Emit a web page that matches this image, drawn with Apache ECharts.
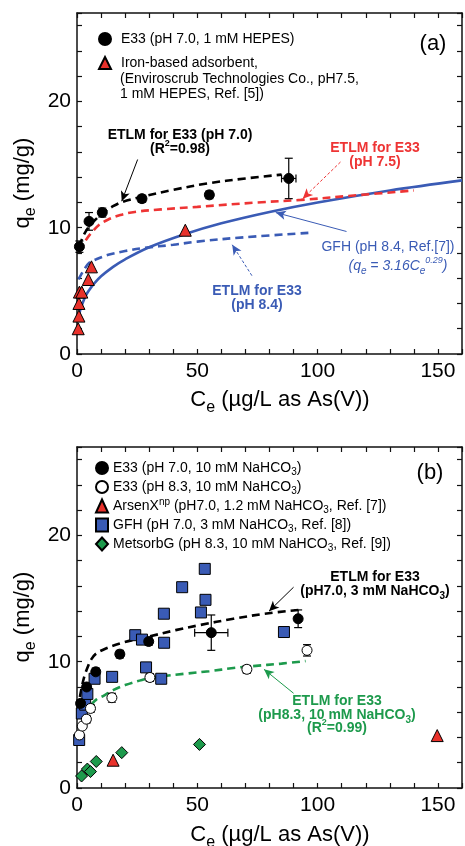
<!DOCTYPE html>
<html>
<head>
<meta charset="utf-8">
<script src="https://cdn.jsdelivr.net/npm/echarts@6/dist/echarts.min.js"></script>
<style>
  html, body { margin: 0; padding: 0; background: #fff; }
  #chart { width: 465px; height: 846px; }
</style>
</head>
<body>
<div id="chart"></div>
<script>
// tick labels
const xLabels = [0, 50, 100, 150]
const yLabels = [0, 10, 20]

// panel (a): [Ce, qe]
const aE33 = [[1, 8.5], [5, 10.5], [10.5, 11.2], [27, 12.3], [55, 12.6], [88, 13.9]]
const aE33Err = [[0, 0.45], [0, 0.7], [0, 0.35], [1.5, 0.25], [0, 0.3], [3, 1.6]]
const aIron = [[0.5, 2.0], [0.8, 3.0], [0.8, 4.0], [1, 4.9], [2, 4.9], [4.7, 5.9], [6, 6.9], [45, 9.8]]
const aFit70 = [[1, 8.5], [2.5, 9.3], [5, 10.1], [8, 10.7], [11, 11.2], [15, 11.7], [19, 12.05], [27, 12.45], [40, 13.0], [54, 13.5], [70, 13.9], [85, 14.2]]
const aFit75 = [[1, 8.1], [2.5, 8.6], [4, 9.1], [6, 9.6], [9, 10.2], [13, 10.65], [18, 11.0], [24, 11.25], [35, 11.45], [50, 11.65], [75, 12.0], [93, 12.2], [115, 12.55], [140, 12.95]]
const aFit84 = [[0.6, 5.9], [3, 6.7], [5, 7.2], [8, 7.5], [13, 7.85], [20, 8.15], [28, 8.4], [40, 8.65], [50, 8.9], [70, 9.25], [97, 9.6]]
const aGFH = [[1, 3.16], [1.5, 3.6], [2, 3.86], [3, 4.35], [4, 4.75], [5, 5.05], [7, 5.55], [10, 6.15], [15, 6.9], [20, 7.5], [30, 8.45], [45, 9.5], [60, 10.35], [80, 11.25], [100, 12.0], [130, 12.95], [160, 13.75]]

// panel (b)
const bE33 = [[1.5, 6.7], [4, 8.0], [7.8, 9.2], [17.8, 10.6], [29.8, 11.6], [55.8, 12.3], [91.9, 13.4]]
const bE33Err = [[0, 0.3], [0, 0.3], [0, 0.3], [1.2, 0.3], [1.2, 0.3], [6.9, 1.4], [0, 0.7]]
const bE33h = [[1.0, 4.2], [2.2, 4.9], [3.9, 5.45], [5.6, 6.3], [14.5, 7.15], [30.3, 8.75], [70.6, 9.4], [95.6, 10.9]]
const bE33hErr = [[0, 0], [0, 0], [1.5, 0.3], [1.5, 0.3], [0, 0.35], [1.5, 0.3], [1.5, 0.3], [0, 0.45]]
const bArsenX = [[15, 2.2], [149.7, 4.15]]
const bGFH = [[0.9, 3.8], [2.0, 5.9], [3.4, 6.6], [4.3, 7.45], [7.3, 8.65], [14.6, 8.8], [24.2, 12.1], [27, 11.75], [28.7, 9.55], [35, 8.65], [36.2, 11.5], [36.1, 13.8], [43.7, 15.9], [51.5, 13.9], [53.1, 17.35], [53.4, 14.9], [86, 12.35]]
const bMetsorb = [[1.9, 0.95], [4.3, 1.5], [5.6, 1.3], [8, 2.1], [18.6, 2.8], [50.9, 3.45]]
const bFit70 = [[1.2, 7.2], [2, 8.0], [3, 8.8], [4.5, 9.6], [6, 10.2], [8, 10.65], [12, 11.05], [18, 11.45], [25, 11.8], [30, 12.0], [41, 12.5], [51, 12.9], [65, 13.4], [78, 13.8], [92, 14.1]]
const bFit83 = [[6, 6.6], [8, 7.0], [11, 7.3], [15, 7.75], [20, 8.15], [27, 8.55], [34, 8.8], [45, 9.05], [55, 9.25], [65, 9.5], [73, 9.65], [85, 9.85], [95, 10.05]]

const FONT = 'Liberation Sans, Arial, Helvetica, sans-serif'
const RED = '#e8312b'
const BLUE = '#3a5bb5'
const GREEN = '#1d9a4c'

const chart = echarts.init(document.getElementById('chart'))

function xAx(gi, pos, labels) {
  return {
    type: 'value', gridIndex: gi, position: pos, min: 0, max: 160, interval: 10,
    axisLine: { show: true, onZero: false, lineStyle: { color: '#111', width: 1.5 } },
    axisTick: { show: true, inside: true, length: 5, lineStyle: { color: '#111', width: 1.2 } },
    axisLabel: {
      show: labels, interval: 0, margin: 7, fontSize: 21, color: '#000', fontFamily: FONT,
      formatter: v => xLabels.includes(v) ? String(v) : ''
    },
    splitLine: { show: false }
  }
}

function yAx(gi, pos, labels) {
  return {
    type: 'value', gridIndex: gi, position: pos, min: 0, max: 27, interval: 2,
    axisLine: { show: true, onZero: false, lineStyle: { color: '#111', width: 1.5 } },
    axisTick: { show: true, inside: true, length: 5, lineStyle: { color: '#111', width: 1.2 } },
    axisLabel: {
      show: labels, interval: 0, margin: 6, fontSize: 21, color: '#000', fontFamily: FONT,
      formatter: v => yLabels.includes(v) ? String(v) : ''
    },
    splitLine: { show: false }
  }
}

function withErr(pts, errs) {
  return pts.map((p, i) => [p[0], p[1], errs[i][0], errs[i][1]])
}

function errRender(params, api) {
  const x = api.value(0), y = api.value(1), ex = api.value(2), ey = api.value(3)
  const c = api.coord([x, y])
  const st = { stroke: '#000', lineWidth: 1.2 }
  const cap = 4
  const ch = []
  if (ey > 0) {
    const t = api.coord([x, y + ey])[1], b = api.coord([x, y - ey])[1]
    ch.push({ type: 'line', shape: { x1: c[0], y1: t, x2: c[0], y2: b }, style: st })
    ch.push({ type: 'line', shape: { x1: c[0] - cap, y1: t, x2: c[0] + cap, y2: t }, style: st })
    ch.push({ type: 'line', shape: { x1: c[0] - cap, y1: b, x2: c[0] + cap, y2: b }, style: st })
  }
  if (ex > 0) {
    const l = api.coord([x - ex, y])[0], r = api.coord([x + ex, y])[0]
    ch.push({ type: 'line', shape: { x1: l, y1: c[1], x2: r, y2: c[1] }, style: st })
    ch.push({ type: 'line', shape: { x1: l, y1: c[1] - cap, x2: l, y2: c[1] + cap }, style: st })
    ch.push({ type: 'line', shape: { x1: r, y1: c[1] - cap, x2: r, y2: c[1] + cap }, style: st })
  }
  return { type: 'group', children: ch }
}

function errSeries(name, ax, data) {
  return {
    name, type: 'custom', xAxisIndex: ax[0], yAxisIndex: ax[1], z: 3,
    renderItem: errRender, encode: { x: 0, y: 1 }, data
  }
}

function arrow(from, to, color, dashed) {
  return {
    silent: true, symbol: ['none', 'arrow'], symbolSize: [7, 10], animation: false,
    label: { show: false },
    lineStyle: { color, width: 1, type: dashed ? [3, 2] : 'solid' },
    data: [[{ coord: from }, { coord: to }]]
  }
}

function curve(name, ax, data, color, dashed, mark) {
  const s = {
    name, type: 'line', xAxisIndex: ax[0], yAxisIndex: ax[1], z: 2,
    data, smooth: 0.35, showSymbol: false, symbol: 'none',
    lineStyle: { color, width: 2.6, type: dashed ? [8, 5] : 'solid' }
  }
  if (mark) s.markLine = mark
  return s
}

function pts(name, ax, data, symbol, size, fill) {
  return {
    name, type: 'scatter', xAxisIndex: ax[0], yAxisIndex: ax[1], z: 4,
    data, symbol, symbolSize: size,
    itemStyle: { color: fill, borderColor: '#000', borderWidth: 1, opacity: 1 }
  }
}

function richFor(color, size) {
  const sl = Math.round(size * 0.62)
  return {
    sub: { fontSize: Math.round(size * 0.72), lineHeight: sl, verticalAlign: 'bottom', fill: color, color, fontFamily: FONT },
    sup: { fontSize: Math.round(size * 0.66), lineHeight: sl, verticalAlign: 'top', fill: color, color, fontFamily: FONT },
    isub: { fontSize: Math.round(size * 0.72), lineHeight: sl, verticalAlign: 'bottom', fontStyle: 'italic', fill: color, color, fontFamily: FONT },
    isup: { fontSize: Math.round(size * 0.66), lineHeight: sl, verticalAlign: 'top', fontStyle: 'italic', fill: color, color, fontFamily: FONT }
  }
}

function txt(x, y, text, o) {
  o = o || {}
  const color = o.color || '#000'
  const size = o.size || 14
  const rich = richFor(color, size)
  if (o.bold) { Object.values(rich).forEach(r => { r.fontWeight = 'bold' }) }
  return {
    type: 'text', x, y, rotation: o.rot || 0, silent: true, z: 20,
    style: {
      text, fill: color, fontSize: size, fontFamily: FONT, lineHeight: Math.round(size * 1.4),
      fontWeight: o.bold ? 'bold' : 'normal', fontStyle: o.italic ? 'italic' : 'normal',
      align: o.align || 'center', verticalAlign: 'middle',
      textAlign: o.align || 'center', textVerticalAlign: 'middle',
      rich
    }
  }
}

const A = [0, 0], B = [2, 2]

const legendFmt = n => n.replace('NaHCO3', 'NaHCO{sub|3}').replace('ArsenXnp', 'ArsenX{sup|np}')

chart.setOption({
  animation: false,
  backgroundColor: '#fff',
  grid: [
    { left: 77, top: 13, width: 385, height: 341 },
    { left: 77, top: 13, width: 385, height: 341 },
    { left: 77, top: 447, width: 385, height: 341 },
    { left: 77, top: 447, width: 385, height: 341 }
  ],
  xAxis: [xAx(0, 'bottom', true), xAx(1, 'top', false), xAx(2, 'bottom', true), xAx(3, 'top', false)],
  yAxis: [yAx(0, 'left', true), yAx(1, 'right', false), yAx(2, 'left', true), yAx(3, 'right', false)],
  legend: [
    {
      data: ['E33 (pH 7.0, 1 mM HEPES)', 'Iron-based adsorbent,'],
      left: 98, top: 32, orient: 'vertical', itemWidth: 12, itemHeight: 12, itemGap: 10,
      padding: 0, selectedMode: false,
      textStyle: { fontSize: 14, color: '#000', fontFamily: FONT, padding: [0, 0, 0, 5] }
    },
    {
      data: ['E33 (pH 7.0, 10 mM NaHCO3)', 'E33 (pH 8.3, 10 mM NaHCO3)',
        'ArsenXnp (pH7.0, 1.2 mM NaHCO3, Ref. [7])', 'GFH (pH 7.0, 3 mM NaHCO3, Ref. [8])',
        'MetsorbG (pH 8.3, 10 mM NaHCO3, Ref. [9])'],
      left: 95, top: 459, orient: 'vertical', itemWidth: 12, itemHeight: 13, itemGap: 1,
      padding: 0, selectedMode: false, formatter: legendFmt,
      textStyle: {
        fontSize: 14, color: '#000', fontFamily: FONT, lineHeight: 18,
        rich: {
          sub: { fontSize: 10, lineHeight: 9, verticalAlign: 'bottom', color: '#000', fontFamily: FONT },
          sup: { fontSize: 10, lineHeight: 9, verticalAlign: 'top', color: '#000', fontFamily: FONT }
        }
      }
    }
  ],
  series: [
    // panel (a)
    curve('GFH fit', A, aGFH, BLUE, false, arrow([112, 9.7], [82.6, 11.2], BLUE, false)),
    curve('ETLM pH 8.4', A, aFit84, BLUE, true, arrow([72.7, 6.2], [64.5, 8.65], BLUE, true)),
    curve('ETLM pH 7.5', A, aFit75, '#ee3434', true, arrow([109.5, 15.2], [93.8, 12.3], '#ee3434', true)),
    curve('ETLM pH 7.0', A, aFit70, '#000', true, arrow([25.2, 15.4], [18.6, 12.1], '#000', false)),
    errSeries('aE33 err', A, withErr(aE33, aE33Err)),
    pts('E33 (pH 7.0, 1 mM HEPES)', A, aE33, 'circle', 10, '#000'),
    pts('Iron-based adsorbent,', A, aIron, 'triangle', 12, RED),
    // panel (b)
    curve('ETLM b pH 7.0', B, bFit70, '#000', true, arrow([90, 15.9], [79.8, 14.0], '#000', false)),
    curve('ETLM b pH 8.3', B, bFit83, GREEN, true, arrow([90, 7.5], [77.7, 9.4], GREEN, false)),
    pts('GFH (pH 7.0, 3 mM NaHCO3, Ref. [8])', B, bGFH, 'rect', 11, BLUE),
    errSeries('bE33 err', B, withErr(bE33, bE33Err)),
    pts('E33 (pH 7.0, 10 mM NaHCO3)', B, bE33, 'circle', 10, '#000'),
    errSeries('bE33h err', B, withErr(bE33h, bE33hErr)),
    pts('E33 (pH 8.3, 10 mM NaHCO3)', B, bE33h, 'circle', 10, '#fff'),
    pts('ArsenXnp (pH7.0, 1.2 mM NaHCO3, Ref. [7])', B, bArsenX, 'triangle', 12, RED),
    pts('MetsorbG (pH 8.3, 10 mM NaHCO3, Ref. [9])', B, bMetsorb, 'diamond', 12, GREEN)
  ],
  graphic: [
    // panel (a)
    txt(23, 183, 'q{sub|e} (mg/g)', { size: 22, rot: Math.PI / 2 }),
    txt(280, 400, 'C{sub|e} (\u00b5g/L as As(V))', { size: 22 }),
    txt(433, 44, '(a)', { size: 22 }),
    txt(120, 79, '(Enviroscrub Technologies Co., pH7.5,', { align: 'left' }),
    txt(120, 94, '1 mM HEPES, Ref. [5])', { align: 'left' }),
    txt(180, 135, 'ETLM for E33 (pH 7.0)', { bold: true }),
    txt(180, 149, '(R{sup|2}=0.98)', { bold: true }),
    txt(375, 148, 'ETLM for E33', { bold: true, color: '#ee3434' }),
    txt(375, 162, '(pH 7.5)', { bold: true, color: '#ee3434' }),
    txt(388, 247, 'GFH (pH 8.4, Ref.[7])', { color: BLUE }),
    txt(398, 266, '(q{isub|e} = 3.16C{isub|e}{isup|0.29})', { color: BLUE, italic: true }),
    txt(257, 291, 'ETLM for E33', { bold: true, color: BLUE }),
    txt(257, 305, '(pH 8.4)', { bold: true, color: BLUE }),
    // panel (b)
    txt(23, 617, 'q{sub|e} (mg/g)', { size: 22, rot: Math.PI / 2 }),
    txt(280, 835, 'C{sub|e} (\u00b5g/L as As(V))', { size: 22 }),
    txt(430, 473, '(b)', { size: 22 }),
    txt(375, 577, 'ETLM for E33', { bold: true }),
    txt(375, 591, '(pH7.0, 3 mM NaHCO{sub|3})', { bold: true }),
    txt(337, 701, 'ETLM for E33', { bold: true, color: GREEN }),
    txt(337, 715, '(pH8.3, 10 mM NaHCO{sub|3})', { bold: true, color: GREEN }),
    txt(337, 728, '(R{sup|2}=0.99)', { bold: true, color: GREEN })
  ]
})
</script>
</body>
</html>
